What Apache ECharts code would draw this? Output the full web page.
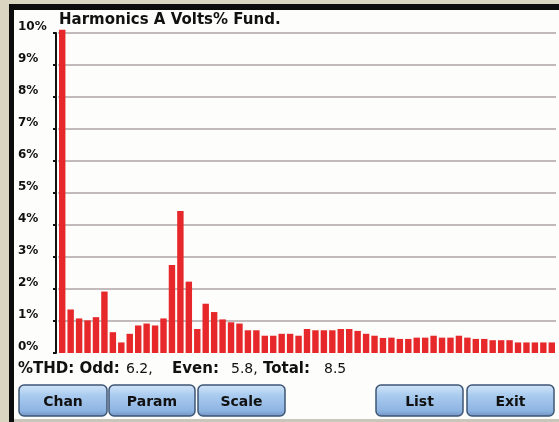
<!DOCTYPE html>
<html>
<head>
<meta charset="utf-8">
<script src="https://cdn.jsdelivr.net/npm/echarts@6/dist/echarts.min.js"></script>
<style>
  html, body { margin: 0; padding: 0; background: #d9d5c1; }
  #chart { width: 559px; height: 422px; }
</style>
</head>
<body>
<div id="chart"></div>
<script>
// harmonic order shown on the x axis (labels are hidden on the meter screen)
const harmonics = [
  1, 2, 3, 4, 5, 6, 7, 8, 9, 10, 11, 12, 13, 14, 15, 16, 17, 18, 19, 20,
  21, 22, 23, 24, 25, 26, 27, 28, 29, 30, 31, 32, 33, 34, 35, 36, 37, 38, 39, 40,
  41, 42, 43, 44, 45, 46, 47, 48, 49, 50, 51, 52, 53, 54, 55, 56, 57, 58, 59
]
// % of fundamental (first bar runs off the top)
const percentOfFund = [
  10.1, 1.36, 1.08, 1.02, 1.12, 1.92, 0.65, 0.33, 0.60, 0.86,
  0.92, 0.86, 1.08, 2.75, 4.44, 2.23, 0.75, 1.54, 1.28, 1.05,
  0.96, 0.92, 0.71, 0.71, 0.54, 0.54, 0.60, 0.60, 0.54, 0.75,
  0.71, 0.71, 0.71, 0.75, 0.75, 0.69, 0.60, 0.54, 0.47, 0.48,
  0.44, 0.44, 0.48, 0.48, 0.54, 0.48, 0.48, 0.54, 0.48, 0.44,
  0.44, 0.40, 0.40, 0.40, 0.33, 0.33, 0.33, 0.33, 0.33
]
const thdOdd = 6.2
const thdEven = 5.8
const thdTotal = 8.5
const buttonLabels = ['Chan', 'Param', 'Scale', 'List', 'Exit']

const FONT = 'DejaVu Sans'
const chart = echarts.init(document.getElementById('chart'))

// soft-key buttons along the bottom
const buttonX = [19, 109, 198, 376, 467]
const buttonW = [88, 86, 87, 87, 87]
const buttons = buttonLabels.map((label, i) => ({
  type: 'group',
  x: buttonX[i],
  y: 385,
  children: [
    {
      type: 'rect',
      shape: { x: 0, y: 0, width: buttonW[i], height: 31, r: 5 },
      style: {
        fill: new echarts.graphic.LinearGradient(0, 0, 0, 1, [
          { offset: 0, color: '#d4e6f8' },
          { offset: 0.35, color: '#a9cbef' },
          { offset: 0.8, color: '#8fb5e2' },
          { offset: 1, color: '#6f93c4' }
        ]),
        stroke: '#3e5675',
        lineWidth: 1.5
      }
    },
    {
      type: 'text',
      x: buttonW[i] / 2,
      y: 17,
      style: {
        text: label,
        font: 'bold 14px ' + FONT,
        fill: '#111',
        align: 'center',
        verticalAlign: 'middle'
      }
    }
  ]
}))

// %THD status line, pieces placed like the meter does
function statusText (x, text, bold) {
  return {
    type: 'text',
    x: x,
    y: 369,
    style: {
      text: text,
      font: bold ? 'bold 15px ' + FONT : '14px ' + FONT,
      fill: '#111',
      verticalAlign: 'middle'
    }
  }
}

const option = {
  animation: false,
  backgroundColor: '#d9d5c1',
  graphic: [
    // screen bezel
    { type: 'rect', z: -10, shape: { x: 9, y: 4, width: 560, height: 420 }, style: { fill: '#0c0c0c' } },
    { type: 'rect', z: -9, shape: { x: 14, y: 10, width: 560, height: 409 }, style: { fill: '#fdfdfb' } },
    { type: 'rect', z: -9, shape: { x: 14, y: 419, width: 560, height: 3 }, style: { fill: '#c9c6bb' } },
    statusText(18, '%THD: Odd:', true),
    statusText(126, thdOdd + ',', false),
    statusText(172, 'Even:', true),
    statusText(231, thdEven + ',', false),
    statusText(263, 'Total:', true),
    statusText(324, String(thdTotal), false),
    ...buttons
  ],
  title: {
    text: 'Harmonics A Volts% Fund.',
    left: 59,
    top: 13,
    padding: 0,
    textStyle: { fontFamily: FONT, fontWeight: 'bold', fontSize: 15, color: '#111' }
  },
  grid: { left: 58, right: 3, top: 33, bottom: 69, containLabel: false },
  xAxis: {
    type: 'category',
    data: harmonics,
    axisLine: { show: true, lineStyle: { color: '#fdfdfb', width: 2 } },
    axisTick: { show: false },
    axisLabel: { show: false },
    splitLine: { show: false }
  },
  yAxis: {
    type: 'value',
    min: 0,
    max: 10,
    interval: 1,
    offset: 2,
    axisLine: { show: true, lineStyle: { color: '#111', width: 2 } },
    axisTick: { show: true, length: 3, lineStyle: { color: '#111', width: 2 } },
    axisLabel: {
      formatter: '{value}%',
      align: 'left',
      verticalAlign: 'bottom',
      margin: 38,
      lineHeight: 13,
      fontFamily: FONT,
      fontWeight: 'bold',
      fontSize: 12,
      color: '#111'
    },
    splitLine: { show: true, lineStyle: { color: '#c3bbbb', width: 2 } }
  },
  series: [{
    type: 'bar',
    data: percentOfFund,
    barCategoryGap: '24%',
    clip: false,
    itemStyle: { color: '#e6282b' }
  }]
}

chart.setOption(option)
</script>
</body>
</html>
